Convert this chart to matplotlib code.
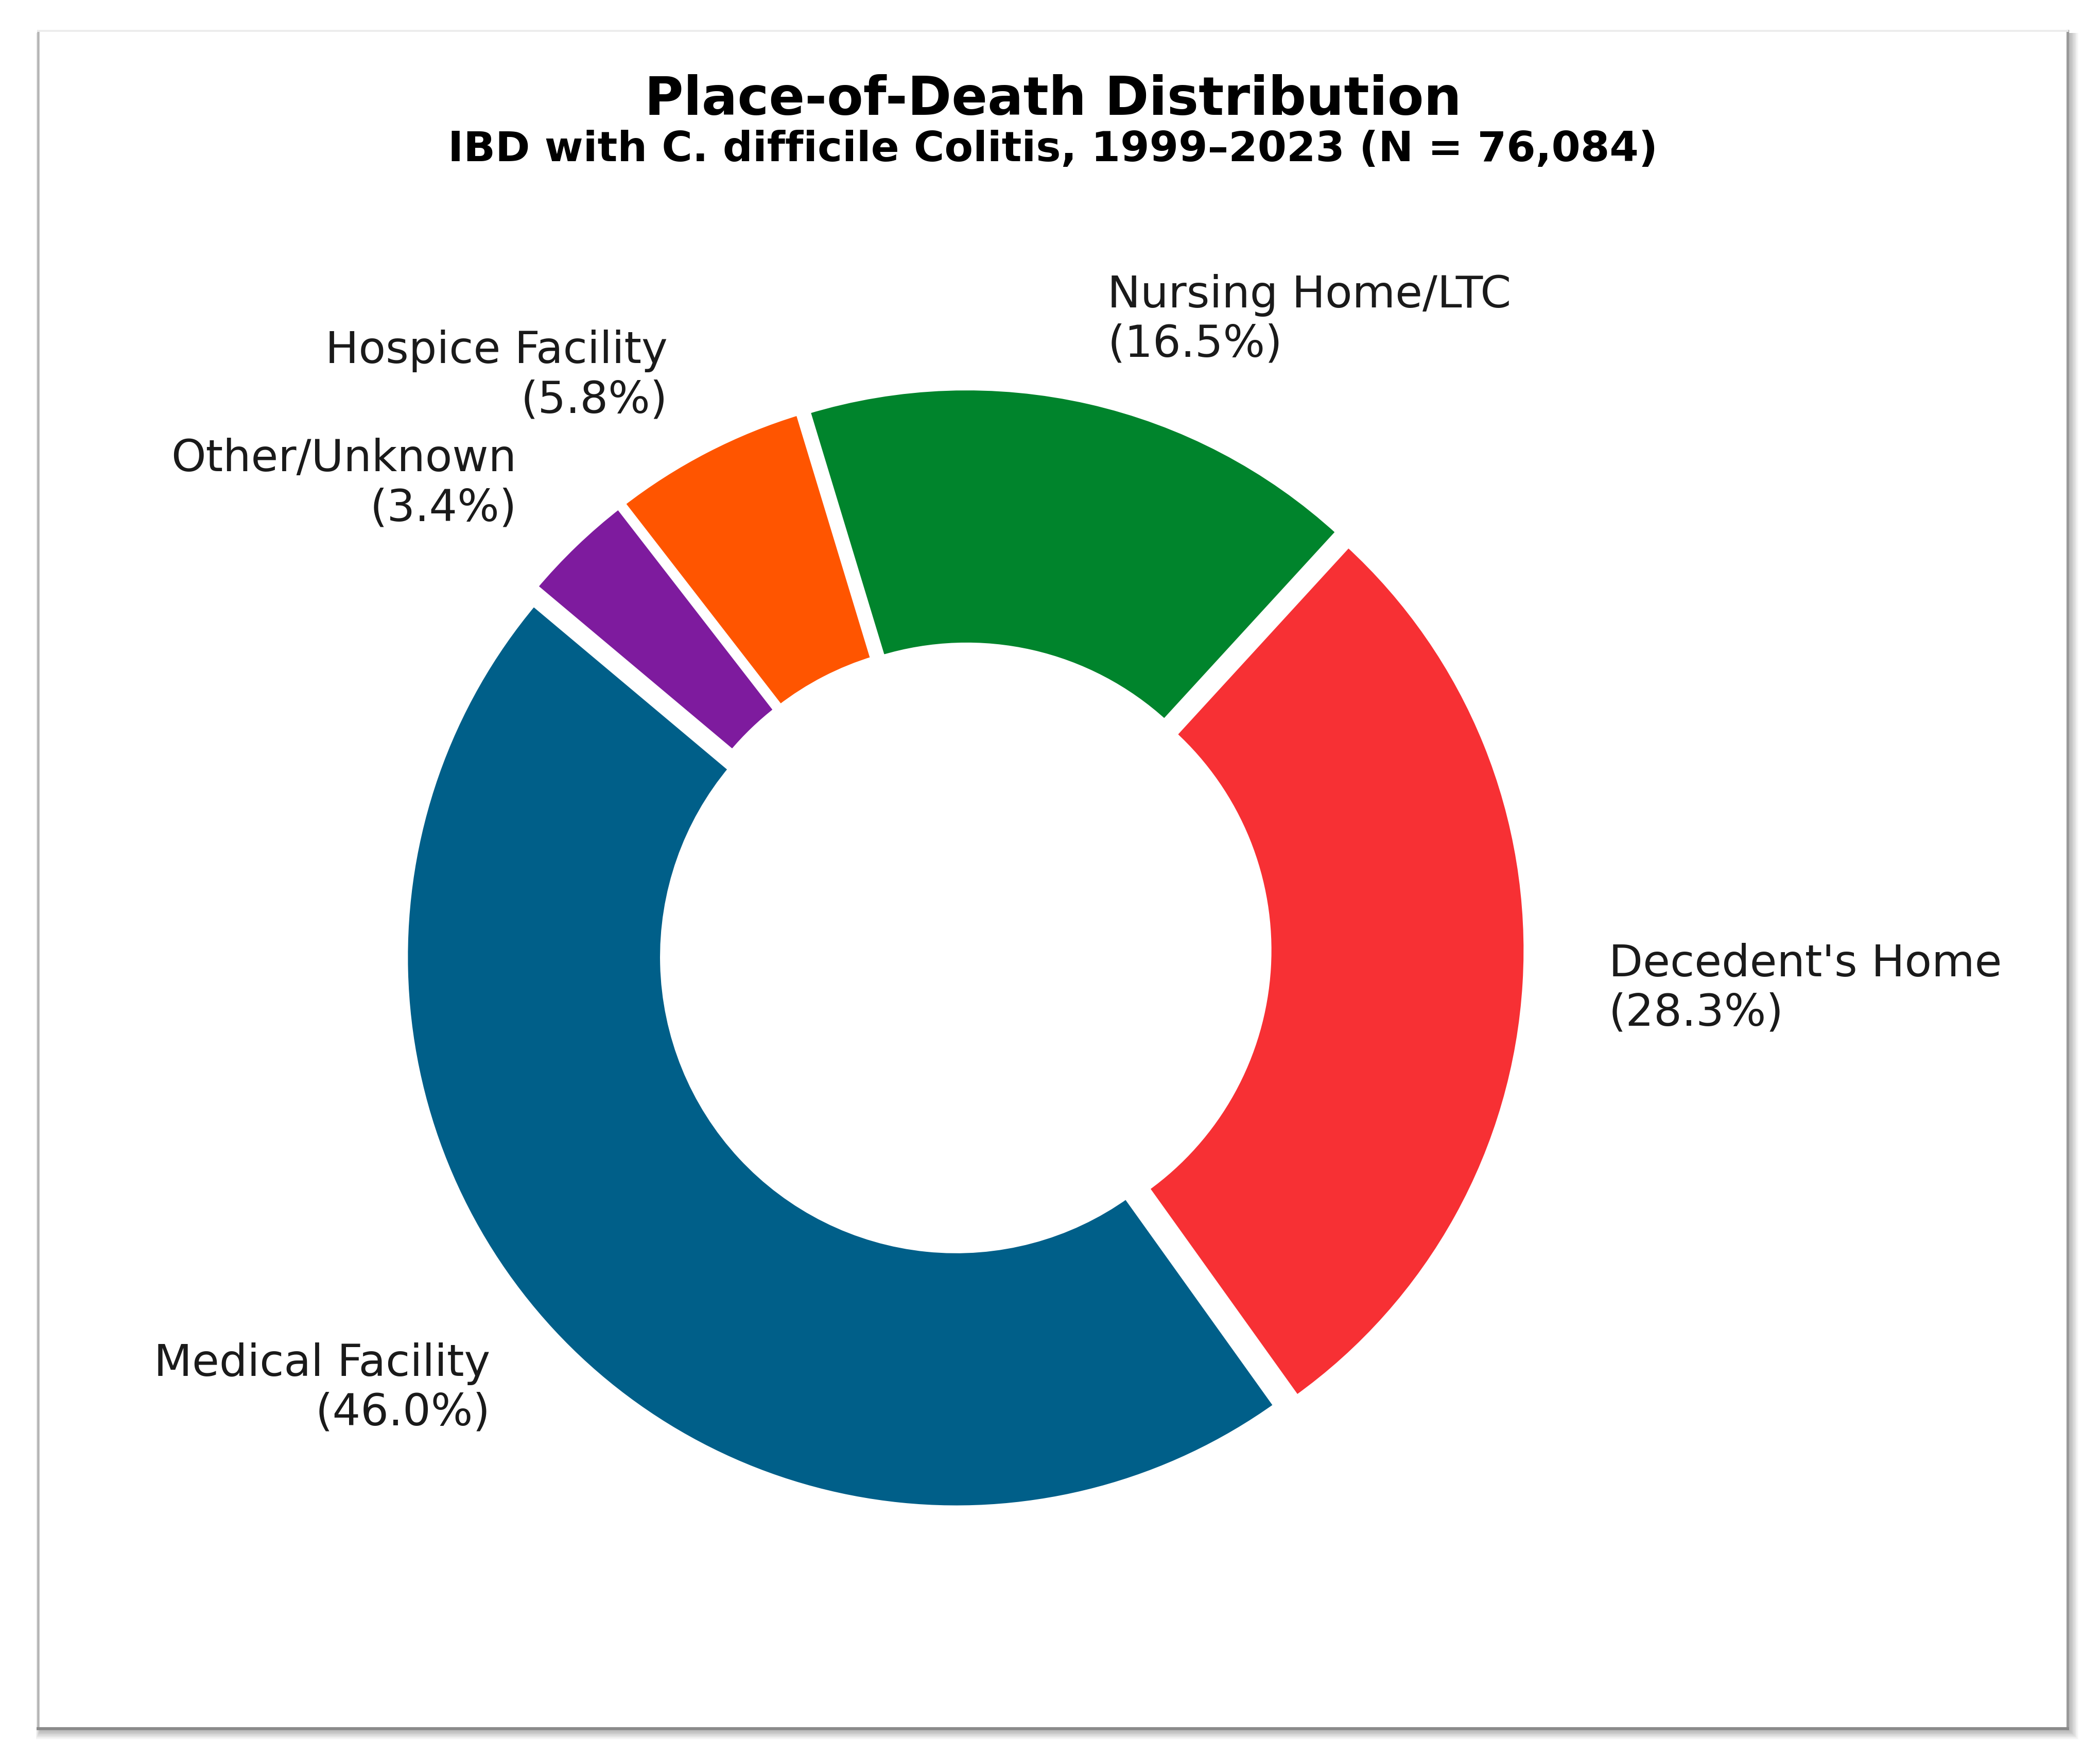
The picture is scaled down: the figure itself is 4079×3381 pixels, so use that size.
import numpy as np
import matplotlib.pyplot as plt
from matplotlib.patches import Rectangle

# data
places = ['Medical Facility', "Decedent's Home", 'Nursing Home/LTC',
          'Hospice Facility', 'Other/Unknown']
shares = [46.0, 28.3, 16.5, 5.8, 3.4]
colors = ['#005F89', '#F73034', '#00842C', '#FF5500', '#7E1B9E']

W, H = 4079, 3381
dpi = 463.5
fig = plt.figure(figsize=(W / dpi, H / dpi), dpi=dpi)

# card frame with a soft drop shadow
fl, ft, fr, fb = 74, 60, 4016, 3357
for k in range(14, 0, -1):
    fig.patches.append(Rectangle(((fl - k * 0.6 + 4) / W, 1 - fb / H - k * 1.2 / H - 4 / H),
                                 (fr - fl + k * 1.8) / W, (fb - ft + k * 1.2) / H,
                                 transform=fig.transFigure, facecolor='black',
                                 edgecolor='none', alpha=0.018, zorder=0))
fig.patches.append(Rectangle((fl / W, 1 - fb / H), (fr - fl) / W, (fb - ft) / H,
                             transform=fig.transFigure, facecolor='white',
                             edgecolor='none', zorder=1))
fig.add_artist(plt.Line2D([fl / W, fl / W], [1 - fb / H, 1 - ft / H], color='#b5b5b5', lw=0.7, zorder=2))
fig.add_artist(plt.Line2D([fr / W, fr / W], [1 - fb / H, 1 - ft / H], color='#9a9a9a', lw=0.8, zorder=2))
fig.add_artist(plt.Line2D([fl / W, fr / W], [1 - fb / H, 1 - fb / H], color='#8a8a8a', lw=0.9, zorder=2))
fig.add_artist(plt.Line2D([fl / W, fr / W], [1 - ft / H, 1 - ft / H], color='#ececec', lw=0.6, zorder=2))

# donut
R = 1072
L = 1.4
S = 2 * L * R
cx, cy = 1873, H - 1844
ax = fig.add_axes([(cx - S / 2) / W, (cy - S / 2) / H, S / W, S / H])
ax.set_zorder(3)
labels = [f'{p}\n({v:.1f}%)' for p, v in zip(places, shares)]
wedges, texts = ax.pie(shares, labels=labels, colors=colors, startangle=140,
                       explode=[0.02] * len(shares), labeldistance=1.15,
                       wedgeprops=dict(width=0.47, edgecolor='white', linewidth=2.2),
                       textprops=dict(fontsize=13.35, color='#1a1a1a'))
ax.set_xlim(-L, L)
ax.set_ylim(-L, L)
ax.set_aspect('equal')
ax.axis('off')

mid = (fl + fr) / 2 / W
fig.text(mid, 1 - 223 / H, 'Place-of-Death Distribution', ha='center', va='baseline',
         fontsize=16, fontweight='bold', zorder=4)
fig.text(mid, 1 - 313 / H, 'IBD with C. difficile Colitis, 1999–2023 (N = 76,084)',
         ha='center', va='baseline', fontsize=12.6, fontweight='bold', zorder=4)

fig.savefig('out.png', dpi=dpi, facecolor='white')
